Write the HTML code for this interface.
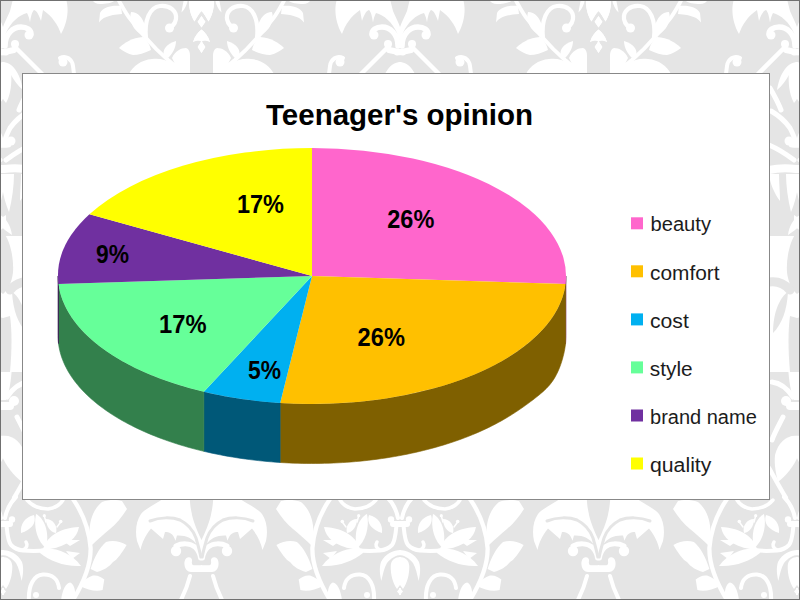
<!DOCTYPE html>
<html><head><meta charset="utf-8"><style>
html,body{margin:0;padding:0;width:800px;height:600px;overflow:hidden;background:#e5e5e5;}
svg{display:block;} #wrap{width:800px;height:600px;}
text{font-family:"Liberation Sans",sans-serif;}
</style></head><body><div id="wrap">
<svg width="800" height="600" viewBox="0 0 800 600">
<rect x="0" y="0" width="800" height="600" fill="#e5e5e5"/>
<g fill="#ffffff">
<defs><g id="ht">
<path d="M13,-1 L66,-1 C69,8 68,22 61,34 C58,25 52,16 43,10 L41,21 C39,15 37,11 34,10 C32,12 31,16 30,22.5 C29,17 28,15 27,13 C19,15 11,22 6,33 L4,42 C2,36 2,31 3,27 C5,21 8,16 10,11 C11,7 12,3 13,-1 Z"/>
<path d="M121,6 C112,5 103,7 100,13 L99,22.5 C102,18 108,15 122,14 Z"/>
<path d="M92,-1 L117,-1 C113,3 106,4 100,4 C96,4 93,2 92,-1 Z"/>
<path d="M131,12 C138,12 143,18 145,26 L146,37 C140,34 134,30 132,24 C130,19 130,15 131,12 Z"/>
<path d="M119,48 C125,42 132,38 143,37 C147,40 150,45 151,50 C145,53 138,55 133,55 C128,54 123,51 119,48 Z"/>
<path d="M164,56 C162,50 166,44 176,41 C176,48 172,54 168,58 Z"/>
<path d="M172,58 C175,51 181,48 186,48 C189,49 190,52 190,56 C190,62 190,68 190,74 L180,74 Z"/>
<path d="M129,74 C133,66 141,60 152,59 C160,58 166,60 171,63 L184,74 Z"/>
<path d="M189,-1 L214,-1 C214.5,8 212,16 208.5,21.5 C206,17 203.5,13 201.5,11 C199.5,13 197,17 194.5,21.5 C191,16 188.5,8 189,-1 Z"/>
<path d="M201.5,16 L205.4,21.8 L201.5,27.5 L197.6,21.8 Z"/>
<path d="M184,-1 L188,-1 C187,5 185,9 181.5,12.5 C182,8 183,4 184,-1 Z"/>
<path d="M201.5,29.5 C205,32 208,36 210,42 C206,40 203,40 201.5,42 C200,40 197,40 193,42 C195,36 198,32 201.5,29.5 Z"/>
<path d="M201.5,41 L205.3,47 L201.5,53 L197.7,47 Z"/>
<path d="M21,533 C20,524 25,517 34,515 C37,523 31,530 21,533 Z"/>
<path d="M36,514 C44,518 50,532 46,548 C38,542 33,528 36,514 Z"/>
<path d="M46,519 C53,519 58,526 56,533 C50,532 46,526 46,519 Z"/>
<path d="M43,549 C46,538 58,528 79,527 C77,538 68,546 50,549 Z"/>
<path d="M62,540 L80,540 L70,546 Z"/>
<path d="M66,551 L80,553 L72,559 Z"/>
<path d="M40,549 C56,547 71,553 81,566 C65,567 50,561 40,553 Z"/>
<path d="M2,550 C10,550 18,554 22,562 C24,568 23,575 21.7,581 C20,574 19,568 16,563 C12,558 7,555 2,555 Z"/>
<path d="M2,557 C8,557 12,560 12.3,566 C12.5,575 10,583 6,589 L3,585 L2,585 Z"/>
<path d="M2,588 L3,588 L6,591.5 L3,595 L2,595 Z"/>
<path d="M61,601 C62,590 66,583 70,582.5 C74,584 76,590 75,601 Z"/>
<path d="M189.7,497 L166,497 C158,503 147,507 141,514 C136,521 135,532 137,541 L140.5,550 C142,543 145,536 151,528.5 L163,539 L165,532 C169,532 173,533 175.5,540.75 L177,535.5 C185,535 193,538 197,545 C199,550 200.5,555 201.5,560 L202.3,560 L202.3,540 L201.5,540 C199,535 197,530 195.7,526.7 C193.5,521 192,516 191.7,513 C190.5,508 190,503 189.7,497 Z"/>
<path d="M202.3,565.3 L194,565.3 C192,565.3 191.5,563 192,561 C192.5,559 191,557 188.5,557.2 C185.5,557.5 184,561 184.5,565 C185,569 187.5,572 191,572 L202.3,572 Z"/>
<path d="M90,540 C88,525 92,510 102,502 C110,499 118,500 122,501 L127,509 C122,517 116,524 110,529 C104,534 98,539 92,545 Z"/>
<path d="M90.6,569 C94,558 99,548 106,542 C112,540 120,541 126.6,545 C122,553 117,560 113,562 C109,567 104,570 97,572 Z"/>
<path d="M80,586 C84,580 88,577 93,575.5 C98,575 101,577 104.3,579.4 L102.6,590 C96,592 88,590 80,586 Z"/>
<path d="M2,62 C12,62 20,72 23,90 C18,86 14,80 11,75 L2,75 Z"/>
<path d="M0,70 L11,72 C12,82 11,94 6,103 C3,100 1,95 0,90 Z"/>
<path d="M21,174 L31,174 C30,183 26,193 20,201 C20,192 21,183 21,174 Z"/>
<path d="M2,174 L14,174 C14,186 12,200 9,212 C6,205 3,195 2,185 Z"/>
<path d="M0,215 C6,218 11,226 12,235 C7,232 3,228 0,226 Z"/>
<path d="M0,236 L31,236 L31,372 L0,372 Z"/>
<path d="M0,360 L12,360 C12,375 10,390 6,400 L0,400 Z"/>
<path d="M2,436 C12,434 22,442 25,455 C26,465 24,474 22,482 C14,476 6,466 2,456 Z"/>
<circle cx="29" cy="35" r="4.5"/>
<circle cx="15" cy="44" r="4"/>
<circle cx="63" cy="62" r="4.5"/>
<circle cx="169.5" cy="28" r="4.5"/>
<circle cx="44.3" cy="515.7" r="1.6"/>
<circle cx="60.7" cy="521.5" r="1.8"/>
<circle cx="12" cy="519.5" r="3.2"/>
<circle cx="176" cy="551" r="5.2"/>
<circle cx="36" cy="595" r="3"/>
<circle cx="11" cy="141" r="4.5"/>
<circle cx="14" cy="401" r="5"/>
<path d="M5,46 C5,34 13,27 21,27 C27,27 31,30 31,34" fill="none" stroke="#fff" stroke-width="5.5" stroke-linecap="round"/>
<path d="M0,52.5 C5,52 10,51 14,50" fill="none" stroke="#fff" stroke-width="6" stroke-linecap="round"/>
<path d="M14,46 L42,74" fill="none" stroke="#fff" stroke-width="4.5" stroke-linecap="round"/>
<path d="M60,58 C66,55 72,59 73,66 L74,74" fill="none" stroke="#fff" stroke-width="4" stroke-linecap="round"/>
<path d="M118,-1 C122,6 126,14 131,20 C136,27 141,33 146,38 C152,45 160,53 168,60 C174,65 180,69 186,74" fill="none" stroke="#fff" stroke-width="3.8" stroke-linecap="round"/>
<path d="M146,38 C144,20 150,7 160,6 C170,5 177,11 176,19 C175,24 172,27 168,27" fill="none" stroke="#fff" stroke-width="4.2" stroke-linecap="round"/>
<path d="M73,499 C82,512 89,528 90.6,548 C91,565 84,582 73,600" fill="none" stroke="#fff" stroke-width="4.3" stroke-linecap="round"/>
<path d="M5,518 C7,508 11,502 16,497" fill="none" stroke="#fff" stroke-width="4" stroke-linecap="round"/>
<path d="M27,500 C33,507 40,509 48,509 C55,508 60,505 63,500" fill="none" stroke="#fff" stroke-width="3.5" stroke-linecap="round"/>
<path d="M0,524 L10,524" fill="none" stroke="#fff" stroke-width="6" stroke-linecap="round"/>
<path d="M6.7,527 C7.5,536 8.5,542 11,545 C14,548 18,550 23,550.5 C30,551 40,551 47,550" fill="none" stroke="#fff" stroke-width="4" stroke-linecap="round"/>
<path d="M23,550 C27,548 28,545 26,542" fill="none" stroke="#fff" stroke-width="3.5" stroke-linecap="round"/>
<path d="M44.3,516 L46,522" fill="none" stroke="#fff" stroke-width="1.5" stroke-linecap="round"/>
<path d="M60.7,522 L57,527" fill="none" stroke="#fff" stroke-width="1.5" stroke-linecap="round"/>
<path d="M29,601 C28,585 34,575 43,574.5 C52,574 58,579 59,588" fill="none" stroke="#fff" stroke-width="4" stroke-linecap="round"/>
<path d="M176,546 C182,543 190,543 195,547 C198,550 200,554 200.5,558" fill="none" stroke="#fff" stroke-width="5" stroke-linecap="round"/>
<path d="M190,576 C188,584 185,592 181,600" fill="none" stroke="#fff" stroke-width="4" stroke-linecap="round"/>
<path d="M30,88 C26,95 22,102 19,110" fill="none" stroke="#fff" stroke-width="5" stroke-linecap="round"/>
<path d="M29,111 C22,115 15,121 10,128 C8,132 6,136 5,140" fill="none" stroke="#fff" stroke-width="5" stroke-linecap="round"/>
<path d="M0,144 L8,144" fill="none" stroke="#fff" stroke-width="7" stroke-linecap="round"/>
<path d="M31,145 C24,148 14,154 6,160" fill="none" stroke="#fff" stroke-width="5" stroke-linecap="round"/>
<path d="M4,169 C12,168 22,168 31,170" fill="none" stroke="#fff" stroke-width="8" stroke-linecap="round"/>
<path d="M28,382 C20,383 13,388 7,397" fill="none" stroke="#fff" stroke-width="5" stroke-linecap="round"/>
<path d="M0,406 L10,406" fill="none" stroke="#fff" stroke-width="8" stroke-linecap="round"/>
<path d="M17,417 C21,425 25,432 28,440" fill="none" stroke="#fff" stroke-width="5" stroke-linecap="round"/>
<path d="M31,468 C26,477 20,488 14,498" fill="none" stroke="#fff" stroke-width="4.5" stroke-linecap="round"/>
</g><g id="hg">
<path d="M3,232 C10,240 14,258 13,272 C12,282 8,290 3,294 Z" fill="#e5e5e5"/>
<path d="M12,292 C20,297 27,312 27,333 C18,324 13,310 12,292 Z" fill="#e5e5e5"/>
<path d="M3,318 L10,316 C12,330 12,350 10,372 L3,372 Z" fill="#e5e5e5"/>
<path d="M31,282 C24,281 16,283 10,290" fill="none" stroke="#e5e5e5" stroke-width="9" stroke-linecap="round"/>
<path d="M150,521 C160,517 172,517 180,520 C188,524 193,530 196,538 C198,545 200,552 200.8,557" fill="none" stroke="#e5e5e5" stroke-width="3" stroke-linecap="round"/>
</g></defs>
<use href="#ht" transform="translate(-397,0)"/>
<use href="#ht" transform="translate(-397,0) matrix(-1,0,0,1,403,0)"/>
<use href="#ht" transform="translate(0,0)"/>
<use href="#ht" transform="translate(0,0) matrix(-1,0,0,1,403,0)"/>
<use href="#ht" transform="translate(397,0)"/>
<use href="#ht" transform="translate(397,0) matrix(-1,0,0,1,403,0)"/>
<use href="#ht" transform="translate(794,0)"/>
<use href="#ht" transform="translate(794,0) matrix(-1,0,0,1,403,0)"/>
<use href="#hg" transform="translate(-397,0)"/>
<use href="#hg" transform="translate(-397,0) matrix(-1,0,0,1,403,0)"/>
<use href="#hg" transform="translate(0,0)"/>
<use href="#hg" transform="translate(0,0) matrix(-1,0,0,1,403,0)"/>
<use href="#hg" transform="translate(397,0)"/>
<use href="#hg" transform="translate(397,0) matrix(-1,0,0,1,403,0)"/>
<use href="#hg" transform="translate(794,0)"/>
<use href="#hg" transform="translate(794,0) matrix(-1,0,0,1,403,0)"/>

</g>
<rect x="0.5" y="0.5" width="799" height="599" fill="none" stroke="#707070" stroke-width="1"/>
<rect x="22.5" y="73.5" width="747" height="426" fill="#ffffff" stroke="#888888" stroke-width="1"/>
<text x="266" y="124.5" font-size="30" font-weight="bold" fill="#000" textLength="267" lengthAdjust="spacingAndGlyphs">Teenager's opinion</text>
<g>
<path d="M566.00,276.00 L565.94,278.68 L565.78,281.36 L565.50,284.04 L565.50,344.10 L565.78,341.25 L565.94,338.45 L566.00,335.68 Z" fill="#7F3366" stroke="#7F3366" stroke-width="0.6"/>
<path d="M565.50,284.04 L565.18,286.28 L564.78,288.52 L564.31,290.75 L563.75,292.99 L563.12,295.21 L562.41,297.43 L561.63,299.64 L560.77,301.85 L559.83,304.05 L558.81,306.24 L557.72,308.42 L556.55,310.59 L555.31,312.75 L553.99,314.90 L552.60,317.03 L551.13,319.15 L549.59,321.27 L547.97,323.36 L546.29,325.44 L544.53,327.51 L542.70,329.56 L540.79,331.59 L538.82,333.61 L536.78,335.61 L534.66,337.59 L532.48,339.55 L530.23,341.49 L527.92,343.41 L525.53,345.31 L523.09,347.19 L520.57,349.05 L517.99,350.89 L515.35,352.70 L512.65,354.49 L509.88,356.25 L507.05,357.99 L504.16,359.70 L501.22,361.39 L498.21,363.05 L495.15,364.69 L492.03,366.30 L488.85,367.88 L485.62,369.43 L482.34,370.95 L479.01,372.44 L475.62,373.91 L472.18,375.34 L468.69,376.74 L465.16,378.11 L461.57,379.45 L457.95,380.76 L454.27,382.04 L450.55,383.28 L446.79,384.49 L442.99,385.67 L439.15,386.81 L435.27,387.92 L431.35,388.99 L427.39,390.03 L423.40,391.03 L419.37,392.00 L415.31,392.93 L411.22,393.83 L407.10,394.69 L402.95,395.51 L398.77,396.30 L394.56,397.05 L390.33,397.76 L386.07,398.44 L381.79,399.07 L377.49,399.67 L373.17,400.23 L368.83,400.75 L364.47,401.24 L360.10,401.68 L355.71,402.09 L351.31,402.46 L346.90,402.79 L342.47,403.08 L338.04,403.33 L333.60,403.54 L329.15,403.71 L324.69,403.84 L320.24,403.93 L315.78,403.99 L311.31,404.00 L306.85,403.97 L302.39,403.91 L297.94,403.80 L293.48,403.66 L289.04,403.48 L284.60,403.25 L280.17,402.99 L280.17,462.49 L284.60,462.75 L289.04,462.98 L293.48,463.16 L297.94,463.30 L302.39,463.41 L306.85,463.47 L311.31,463.50 L315.78,463.49 L320.24,463.43 L324.69,463.34 L329.15,463.21 L333.60,463.04 L338.04,462.83 L342.47,462.58 L346.90,462.29 L351.31,461.96 L355.71,461.59 L360.10,461.18 L364.47,460.74 L368.83,460.25 L373.17,459.73 L377.49,459.17 L381.79,458.57 L386.07,457.94 L390.33,457.26 L394.56,456.55 L398.77,455.80 L402.95,455.01 L407.10,454.19 L411.22,453.33 L415.31,452.43 L419.37,451.50 L423.40,450.53 L427.39,449.53 L431.35,448.49 L435.27,447.42 L439.15,446.31 L442.99,445.17 L446.79,443.99 L450.55,442.78 L454.27,441.54 L457.95,440.26 L461.57,438.95 L465.16,437.61 L468.69,436.24 L472.18,434.84 L475.62,433.41 L479.01,431.94 L482.34,430.45 L485.62,428.93 L488.85,427.38 L492.03,425.80 L495.15,424.19 L498.21,422.56 L501.22,420.91 L504.16,419.23 L507.05,417.53 L509.88,415.81 L512.65,414.07 L515.35,412.33 L517.99,410.58 L520.57,408.82 L523.09,407.07 L525.53,405.32 L527.92,403.59 L530.23,401.87 L532.48,400.18 L534.66,398.50 L536.78,396.85 L538.82,395.20 L540.79,393.56 L542.70,391.92 L544.53,390.25 L546.29,388.54 L547.97,386.78 L549.59,384.95 L551.13,383.03 L552.60,381.01 L553.99,378.89 L555.31,376.67 L556.55,374.35 L557.72,371.95 L558.81,369.47 L559.83,366.93 L560.77,364.36 L561.63,361.76 L562.41,359.17 L563.12,356.58 L563.75,354.02 L564.31,351.49 L564.78,348.99 L565.18,346.53 L565.50,344.10 Z" fill="#7F6000" stroke="#7F6000" stroke-width="0.6"/>
<path d="M280.17,402.99 L275.77,402.69 L271.39,402.35 L267.02,401.98 L262.66,401.56 L258.32,401.11 L254.00,400.62 L249.69,400.09 L245.40,399.52 L241.14,398.92 L236.89,398.28 L232.67,397.60 L228.47,396.88 L224.29,396.13 L220.15,395.34 L216.03,394.51 L211.94,393.65 L207.88,392.75 L203.85,391.82 L203.85,451.32 L207.88,452.25 L211.94,453.15 L216.03,454.01 L220.15,454.84 L224.29,455.63 L228.47,456.38 L232.67,457.10 L236.89,457.78 L241.14,458.42 L245.40,459.02 L249.69,459.59 L254.00,460.12 L258.32,460.61 L262.66,461.06 L267.02,461.48 L271.39,461.85 L275.77,462.19 L280.17,462.49 Z" fill="#005878" stroke="#005878" stroke-width="0.6"/>
<path d="M203.85,391.82 L199.84,390.85 L195.87,389.84 L191.93,388.80 L188.03,387.72 L184.17,386.61 L180.35,385.46 L176.56,384.29 L172.82,383.07 L169.12,381.83 L165.47,380.55 L161.86,379.24 L158.29,377.90 L154.78,376.53 L151.31,375.13 L147.89,373.69 L144.52,372.23 L141.20,370.74 L137.93,369.22 L134.72,367.67 L131.56,366.09 L128.46,364.48 L125.42,362.85 L122.43,361.19 L119.50,359.50 L116.62,357.79 L113.81,356.06 L111.06,354.30 L108.37,352.51 L105.74,350.70 L103.18,348.87 L100.68,347.02 L98.24,345.14 L95.87,343.24 L93.57,341.33 L91.34,339.39 L89.17,337.43 L87.07,335.46 L85.03,333.46 L83.07,331.45 L81.18,329.42 L79.36,327.38 L77.61,325.32 L75.93,323.24 L74.33,321.15 L72.80,319.05 L71.34,316.93 L69.95,314.80 L68.64,312.66 L67.40,310.51 L66.24,308.34 L65.16,306.17 L64.15,303.99 L63.21,301.80 L62.35,299.60 L61.57,297.39 L60.87,295.18 L60.24,292.96 L59.69,290.73 L59.22,288.51 L58.82,286.27 L58.50,284.04 L58.50,343.54 L58.82,345.77 L59.22,348.01 L59.69,350.23 L60.24,352.46 L60.87,354.68 L61.57,356.89 L62.35,359.10 L63.21,361.30 L64.15,363.49 L65.16,365.67 L66.24,367.84 L67.40,370.01 L68.64,372.16 L69.95,374.30 L71.34,376.43 L72.80,378.55 L74.33,380.65 L75.93,382.74 L77.61,384.82 L79.36,386.88 L81.18,388.92 L83.07,390.95 L85.03,392.96 L87.07,394.96 L89.17,396.93 L91.34,398.89 L93.57,400.83 L95.87,402.74 L98.24,404.64 L100.68,406.52 L103.18,408.37 L105.74,410.20 L108.37,412.01 L111.06,413.80 L113.81,415.56 L116.62,417.29 L119.50,419.00 L122.43,420.69 L125.42,422.35 L128.46,423.98 L131.56,425.59 L134.72,427.17 L137.93,428.72 L141.20,430.24 L144.52,431.73 L147.89,433.19 L151.31,434.63 L154.78,436.03 L158.29,437.40 L161.86,438.74 L165.47,440.05 L169.12,441.33 L172.82,442.57 L176.56,443.79 L180.35,444.96 L184.17,446.11 L188.03,447.22 L191.93,448.30 L195.87,449.34 L199.84,450.35 L203.85,451.32 Z" fill="#33804C" stroke="#33804C" stroke-width="0.6"/>
<path d="M58.50,284.04 L58.22,281.36 L58.06,278.68 L58.00,276.00 L58.00,335.50 L58.06,338.18 L58.22,340.86 L58.50,343.54 Z" fill="#381850" stroke="#381850" stroke-width="0.6"/>
<path d="M312.00,276.00 L312.00,148.00 A254 128 0 0 1 565.50,284.04 Z" fill="#FF66CC"/>
<path d="M312.00,276.00 L565.50,284.04 A254 128 0 0 1 280.17,402.99 Z" fill="#FFC000"/>
<path d="M312.00,276.00 L280.17,402.99 A254 128 0 0 1 203.85,391.82 Z" fill="#00B0F0"/>
<path d="M312.00,276.00 L203.85,391.82 A254 128 0 0 1 58.50,284.04 Z" fill="#66FF99"/>
<path d="M312.00,276.00 L58.50,284.04 A254 128 0 0 1 89.42,214.34 Z" fill="#7030A0"/>
<path d="M312.00,276.00 L89.42,214.34 A254 128 0 0 1 312.00,148.00 Z" fill="#FFFF00"/>

</g>
<g font-weight="bold" font-size="25" fill="#000">
<text x="387.3" y="228" textLength="47" lengthAdjust="spacingAndGlyphs">26%</text>
<text x="357.6" y="346" textLength="47.3" lengthAdjust="spacingAndGlyphs">26%</text>
<text x="248" y="379" textLength="33" lengthAdjust="spacingAndGlyphs">5%</text>
<text x="159" y="333.3" textLength="47.5" lengthAdjust="spacingAndGlyphs">17%</text>
<text x="96" y="262.8" textLength="33" lengthAdjust="spacingAndGlyphs">9%</text>
<text x="237" y="212.5" textLength="47" lengthAdjust="spacingAndGlyphs">17%</text>
</g>
<g font-size="19.5" fill="#1c1c1c">
<rect x="631" y="217.3" width="12" height="12" fill="#FF66CC"/><text x="650.5" y="231.4" textLength="60.5" lengthAdjust="spacingAndGlyphs">beauty</text>
<rect x="631" y="265.3" width="12" height="12" fill="#FFC000"/><text x="650" y="279.5" textLength="69.5" lengthAdjust="spacingAndGlyphs">comfort</text>
<rect x="631" y="313.4" width="12" height="12" fill="#00B0F0"/><text x="650" y="327.5" textLength="38.8" lengthAdjust="spacingAndGlyphs">cost</text>
<rect x="631" y="361.4" width="12" height="12" fill="#66FF99"/><text x="649.8" y="375.6" textLength="42.8" lengthAdjust="spacingAndGlyphs">style</text>
<rect x="631" y="409.5" width="12" height="12" fill="#7030A0"/><text x="650" y="423.6" textLength="106.8" lengthAdjust="spacingAndGlyphs">brand name</text>
<rect x="631" y="457.5" width="12" height="12" fill="#FFFF00"/><text x="650" y="471.6" textLength="61.4" lengthAdjust="spacingAndGlyphs">quality</text>
</g>
</svg></div>
</body></html>
